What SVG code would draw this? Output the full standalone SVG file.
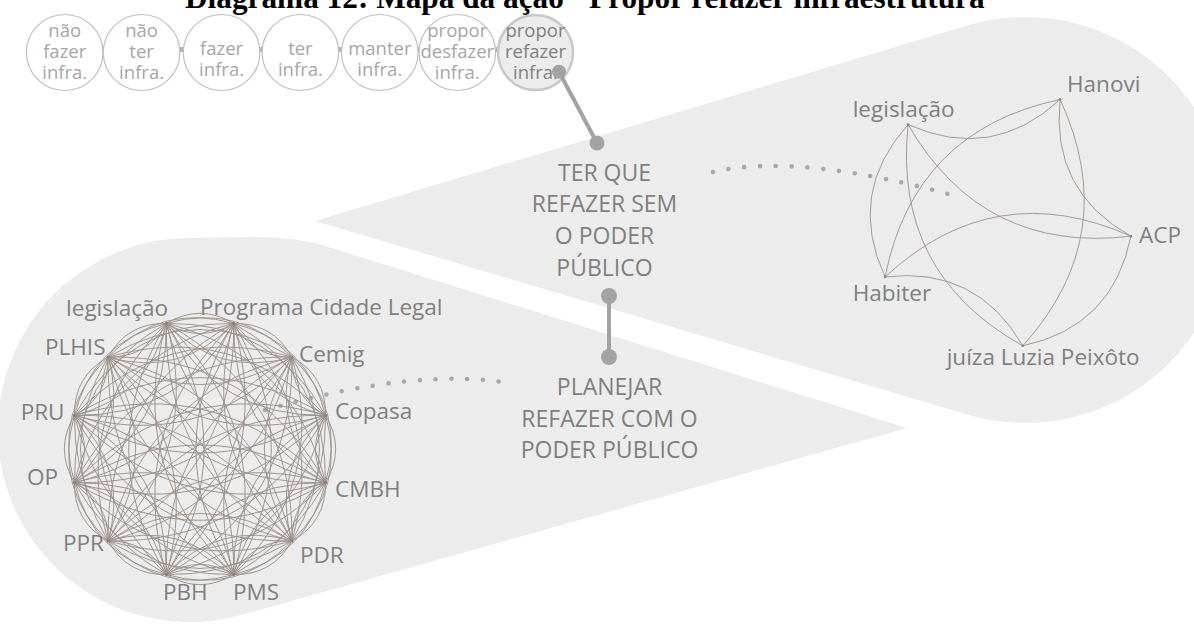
<svg xmlns="http://www.w3.org/2000/svg" xmlns:xlink="http://www.w3.org/1999/xlink" width="1194" height="628" viewBox="0 0 1194 628">
<style>
.t{font-family:"Open Sans","Noto Sans","DejaVu Sans",sans-serif}
.sm{font-size:18.5px;fill:#a6a6a6;text-anchor:middle}
.sm7{font-size:18.5px;fill:#7f7f7f;text-anchor:middle}
.big{font-size:23px;fill:#7f7f7f;text-anchor:middle}
.lbl{font-size:22.5px;fill:#7f7f7f}
.circ{fill:#ffffff;stroke:#bfbfbf;stroke-width:1.2}
.edge{fill:none;stroke:#9d928b;stroke-width:0.9}
.edge2{fill:none;stroke:#a59b95;stroke-width:1}
.dots{fill:none;stroke:#a8a8a8;stroke-width:4.6;stroke-linecap:round;stroke-dasharray:0 1}
.conn{stroke:#a3a3a3;stroke-width:4;fill:none}
.cd{fill:#a3a3a3}
.nd{fill:#8c8079}
.link{fill:#b3b3b3}
</style>
<defs>
<path id="fan" d="M130,0Q101.8,27.3 112.6,65M130,0Q63.7,36.8 65,112.6M130,0Q26,26 0,130M130,0Q-1.3,-2.2 -65,112.6M130,0Q-10.8,-40.3 -112.6,65M130,0Q0,-78 -130,0M130,0Q28.2,-105.3 -112.6,-65M130,0Q66.3,-114.7 -65,-112.6M130,0Q104,-104 0,-130M130,0Q131.3,-75.8 65,-112.6M130,0Q140.8,-37.7 112.6,-65"/>
</defs>
<rect width="1194" height="628" fill="#ffffff"/>

<g id="zones">
<path id="zone-sem" d="M315,221 L966.7,25.6 A203,203 0 1 1 967.3,414.6 Z" fill="#ececec"/>
<path id="zone-com" d="M907,428 L330,247.4 C282.3,232.5 240,238 190,238 A192,192 0 1 0 241.9,614.8 Z" fill="#ececec"/>
</g>

<text id="title" x="185" y="8" textLength="817" lengthAdjust="spacingAndGlyphs" style="font-family:'Liberation Serif','Times New Roman',serif;font-weight:bold;font-size:31px;fill:#000">Diagrama 12: Mapa da ação "Propor refazer infraestrutura"</text>

<g id="row-links">
<rect class="link" x="101" y="47" width="4" height="5"/>
<rect class="link" x="179.5" y="47" width="4" height="5"/>
<rect class="link" x="259" y="47" width="4" height="5"/>
<rect class="link" x="337.5" y="47" width="4" height="5"/>
<rect class="link" x="417" y="47" width="4" height="5"/>
<rect class="link" x="494.5" y="47" width="4" height="5"/>
</g>

<g id="a1" class="t"><ellipse class="circ" cx="64.7" cy="52.5" rx="38.3" ry="38"/><text class="sm" x="64.7" y="37">não</text><text class="sm" x="64.7" y="58">fazer</text><text class="sm" x="64.7" y="79">infra.</text></g>
<g id="a2" class="t"><ellipse class="circ" cx="141.6" cy="52.5" rx="38.3" ry="38"/><text class="sm" x="141.6" y="37">não</text><text class="sm" x="141.6" y="58">ter</text><text class="sm" x="141.6" y="79">infra.</text></g>
<g id="a3" class="t"><ellipse class="circ" cx="221.6" cy="52.5" rx="38.3" ry="38"/><text class="sm" x="221.6" y="55">fazer</text><text class="sm" x="221.6" y="76">infra.</text></g>
<g id="a4" class="t"><ellipse class="circ" cx="300.4" cy="52.5" rx="38.3" ry="38"/><text class="sm" x="300.4" y="55">ter</text><text class="sm" x="300.4" y="76">infra.</text></g>
<g id="a5" class="t"><ellipse class="circ" cx="379.8" cy="52.5" rx="38.3" ry="38"/><text class="sm" x="379.8" y="55">manter</text><text class="sm" x="379.8" y="76">infra.</text></g>
<g id="a6" class="t"><ellipse class="circ" cx="457.3" cy="52.5" rx="38.3" ry="38"/><text class="sm" x="457.3" y="37">propor</text><text class="sm" x="457.3" y="58">desfazer</text><text class="sm" x="457.3" y="79">infra.</text></g>
<g id="a7" class="t"><ellipse cx="535.5" cy="52.5" rx="37.5" ry="37.5" fill="#ececec" stroke="#c8c8c8" stroke-width="2.5"/><text class="sm7" x="535.5" y="37">propor</text><text class="sm7" x="535.5" y="58">refazer</text><text class="sm7" x="535.5" y="79">infra.</text></g>

<g id="connectors">
<line class="conn" x1="559" y1="71.7" x2="597" y2="143"/>
<circle class="cd" cx="559" cy="71.7" r="7"/>
<circle class="cd" cx="597" cy="143" r="7.5"/>
<line class="conn" x1="609" y1="296" x2="609" y2="357"/>
<circle class="cd" cx="609" cy="296" r="8"/>
<circle class="cd" cx="609" cy="357" r="8"/>
<path class="dots" pathLength="16" d="M713,172 Q800,152 963,198"/>
<path class="dots" pathLength="16" d="M265,410 Q420,366 514,384"/>
</g>

<g id="sem" class="t">
<text class="big" x="604.5" y="180.7">TER QUE</text>
<text class="big" x="604.5" y="212.3">REFAZER SEM</text>
<text class="big" x="604.5" y="244.3">O PODER</text>
<text class="big" x="604.5" y="276">PÚBLICO</text>
</g>
<g id="com" class="t">
<text class="big" x="609.5" y="395">PLANEJAR</text>
<text class="big" x="609.5" y="426.7">REFAZER COM O</text>
<text class="big" x="609.5" y="458.3">PODER PÚBLICO</text>
</g>

<g id="graph-com-edges" transform="translate(200,449)">
<use href="#fan" xlink:href="#fan" class="edge" transform="rotate(-105)"/>
<use href="#fan" xlink:href="#fan" class="edge" transform="rotate(-75)"/>
<use href="#fan" xlink:href="#fan" class="edge" transform="rotate(-45)"/>
<use href="#fan" xlink:href="#fan" class="edge" transform="rotate(-15)"/>
<use href="#fan" xlink:href="#fan" class="edge" transform="rotate(15)"/>
<use href="#fan" xlink:href="#fan" class="edge" transform="rotate(45)"/>
<use href="#fan" xlink:href="#fan" class="edge" transform="rotate(75)"/>
<use href="#fan" xlink:href="#fan" class="edge" transform="rotate(105)"/>
<use href="#fan" xlink:href="#fan" class="edge" transform="rotate(135)"/>
<use href="#fan" xlink:href="#fan" class="edge" transform="rotate(165)"/>
<use href="#fan" xlink:href="#fan" class="edge" transform="rotate(195)"/>
<use href="#fan" xlink:href="#fan" class="edge" transform="rotate(225)"/>
</g>

<g id="c-legislacao" class="t"><circle class="nd" cx="166.4" cy="323.4" r="1.6"/><text class="lbl" x="168" y="316" text-anchor="end">legislação</text></g>
<g id="c-programa" class="t"><circle class="nd" cx="233.6" cy="323.4" r="1.6"/><text class="lbl" x="200" y="315">Programa Cidade Legal</text></g>
<g id="c-cemig" class="t"><circle class="nd" cx="291.9" cy="357.1" r="1.6"/><text class="lbl" x="299" y="362">Cemig</text></g>
<g id="c-copasa" class="t"><circle class="nd" cx="325.6" cy="415.4" r="1.6"/><text class="lbl" x="335" y="419">Copasa</text></g>
<g id="c-cmbh" class="t"><circle class="nd" cx="325.6" cy="482.6" r="1.6"/><text class="lbl" x="335" y="497">CMBH</text></g>
<g id="c-pdr" class="t"><circle class="nd" cx="291.9" cy="540.9" r="1.6"/><text class="lbl" x="300" y="563">PDR</text></g>
<g id="c-pms" class="t"><circle class="nd" cx="233.6" cy="574.6" r="1.6"/><text class="lbl" x="233" y="600">PMS</text></g>
<g id="c-pbh" class="t"><circle class="nd" cx="166.4" cy="574.6" r="1.6"/><text class="lbl" x="163" y="600">PBH</text></g>
<g id="c-ppr" class="t"><circle class="nd" cx="108.1" cy="540.9" r="1.6"/><text class="lbl" x="63" y="550.7">PPR</text></g>
<g id="c-op" class="t"><circle class="nd" cx="74.4" cy="482.6" r="1.6"/><text class="lbl" x="27" y="485">OP</text></g>
<g id="c-pru" class="t"><circle class="nd" cx="74.4" cy="415.4" r="1.6"/><text class="lbl" x="20.7" y="420">PRU</text></g>
<g id="c-plhis" class="t"><circle class="nd" cx="108.1" cy="357.1" r="1.6"/><text class="lbl" x="45" y="355">PLHIS</text></g>

<g id="graph-sem-edges">
<path class="edge2" d="M908.1,124.6 Q992.4,162.2 1060.1,99.5"/>
<path class="edge2" d="M1060.1,99.5 Q1050.4,191.2 1130.9,236.2"/>
<path class="edge2" d="M1022.8,345.8 Q1113,326.7 1130.9,236.2"/>
<path class="edge2" d="M1022.8,345.8 Q976.7,265.9 885.1,276.9"/>
<path class="edge2" d="M908.1,124.6 Q846.3,193.2 885.1,276.9"/>
<path class="edge2" d="M908.1,124.6 Q892.5,273.1 1022.8,345.8"/>
<path class="edge2" d="M908.1,124.6 Q982.7,253.9 1130.9,236.2"/>
<path class="edge2" d="M1060.1,99.5 Q914.1,130.4 885.1,276.9"/>
<path class="edge2" d="M1022.8,345.8 Q1122.7,235 1060.1,99.5"/>
<path class="edge2" d="M1130.9,236.2 Q994.6,175.4 885.1,276.9"/>
</g>

<g id="s-legislacao" class="t"><circle class="nd" cx="908.1" cy="124.6" r="1.3"/><text class="lbl" x="852.7" y="117">legislação</text></g>
<g id="s-hanovi" class="t"><circle class="nd" cx="1060.1" cy="99.5" r="1.3"/><text class="lbl" x="1067" y="92">Hanovi</text></g>
<g id="s-acp" class="t"><circle class="nd" cx="1130.9" cy="236.2" r="1.3"/><text class="lbl" x="1139" y="243">ACP</text></g>
<g id="s-juiza" class="t"><circle class="nd" cx="1022.8" cy="345.8" r="1.3"/><text class="lbl" x="946.7" y="365">juíza Luzia Peixôto</text></g>
<g id="s-habiter" class="t"><circle class="nd" cx="885.1" cy="276.9" r="1.3"/><text class="lbl" x="852.7" y="301">Habiter</text></g>
</svg>
